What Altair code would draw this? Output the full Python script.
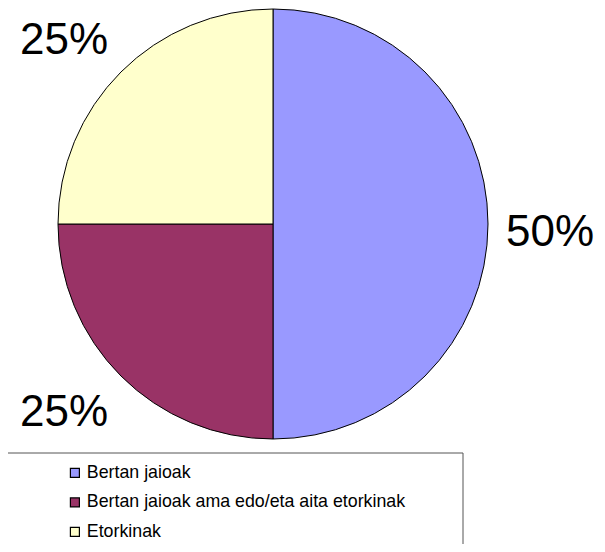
import altair as alt
import pandas as pd

categories = ["Bertan jaioak", "Bertan jaioak ama edo/eta aita etorkinak", "Etorkinak"]
values = [50, 25, 25]
labels = ["50%", "25%", "25%"]
colors = ["#9999FF", "#993366", "#FFFFCC"]

df = pd.DataFrame({"cat": categories, "val": values, "lab": labels, "ord": [0, 1, 2]})

FONT = "Liberation Sans"
CX, CY = 265, 216

base = alt.Chart(df).encode(
    theta=alt.Theta("val:Q", stack=True),
    order=alt.Order("ord:Q"),
)

pie = base.mark_arc(radius=215, stroke="black", strokeWidth=1).encode(
    x=alt.value(CX),
    y=alt.value(CY),
    color=alt.Color(
        "cat:N",
        scale=alt.Scale(domain=categories, range=colors),
        sort=categories,
        legend=alt.Legend(
            title=None,
            orient="none",
            legendX=58,
            legendY=456,
            padding=0,
            symbolType="square",
            symbolSize=81,
            symbolStrokeColor="black",
            symbolStrokeWidth=1.2,
            symbolOpacity=1,
            labelFont=FONT,
            labelFontSize=17.8,
            labelColor="black",
            labelLimit=600,
            labelOffset=3,
            rowPadding=10.5,
        ),
    ),
)

text_right = base.mark_text(radius=277, dy=9, fontSize=44, font=FONT, color="black").encode(
    x=alt.value(CX),
    y=alt.value(CY),
    text=alt.condition("datum.ord == 0", "lab:N", alt.value("")),
)

text_left = base.mark_text(radius=263, dx=-23, dy=3, fontSize=44, font=FONT, color="black").encode(
    x=alt.value(CX),
    y=alt.value(CY),
    text=alt.condition("datum.ord != 0", "lab:N", alt.value("")),
)

frame = alt.Chart(pd.DataFrame({"a": [0]})).mark_rect(
    fill=None, stroke="#555555", strokeWidth=1
).encode(
    x=alt.value(-1), x2=alt.value(455), y=alt.value(445), y2=alt.value(570)
)

chart = alt.layer(pie, text_right, text_left, frame).properties(
    width=589, height=536, autosize=alt.AutoSizeParams(type="none"), padding=0
).configure_view(stroke=None)

chart.save("out.html", embed_options={"renderer": "svg", "actions": False})
